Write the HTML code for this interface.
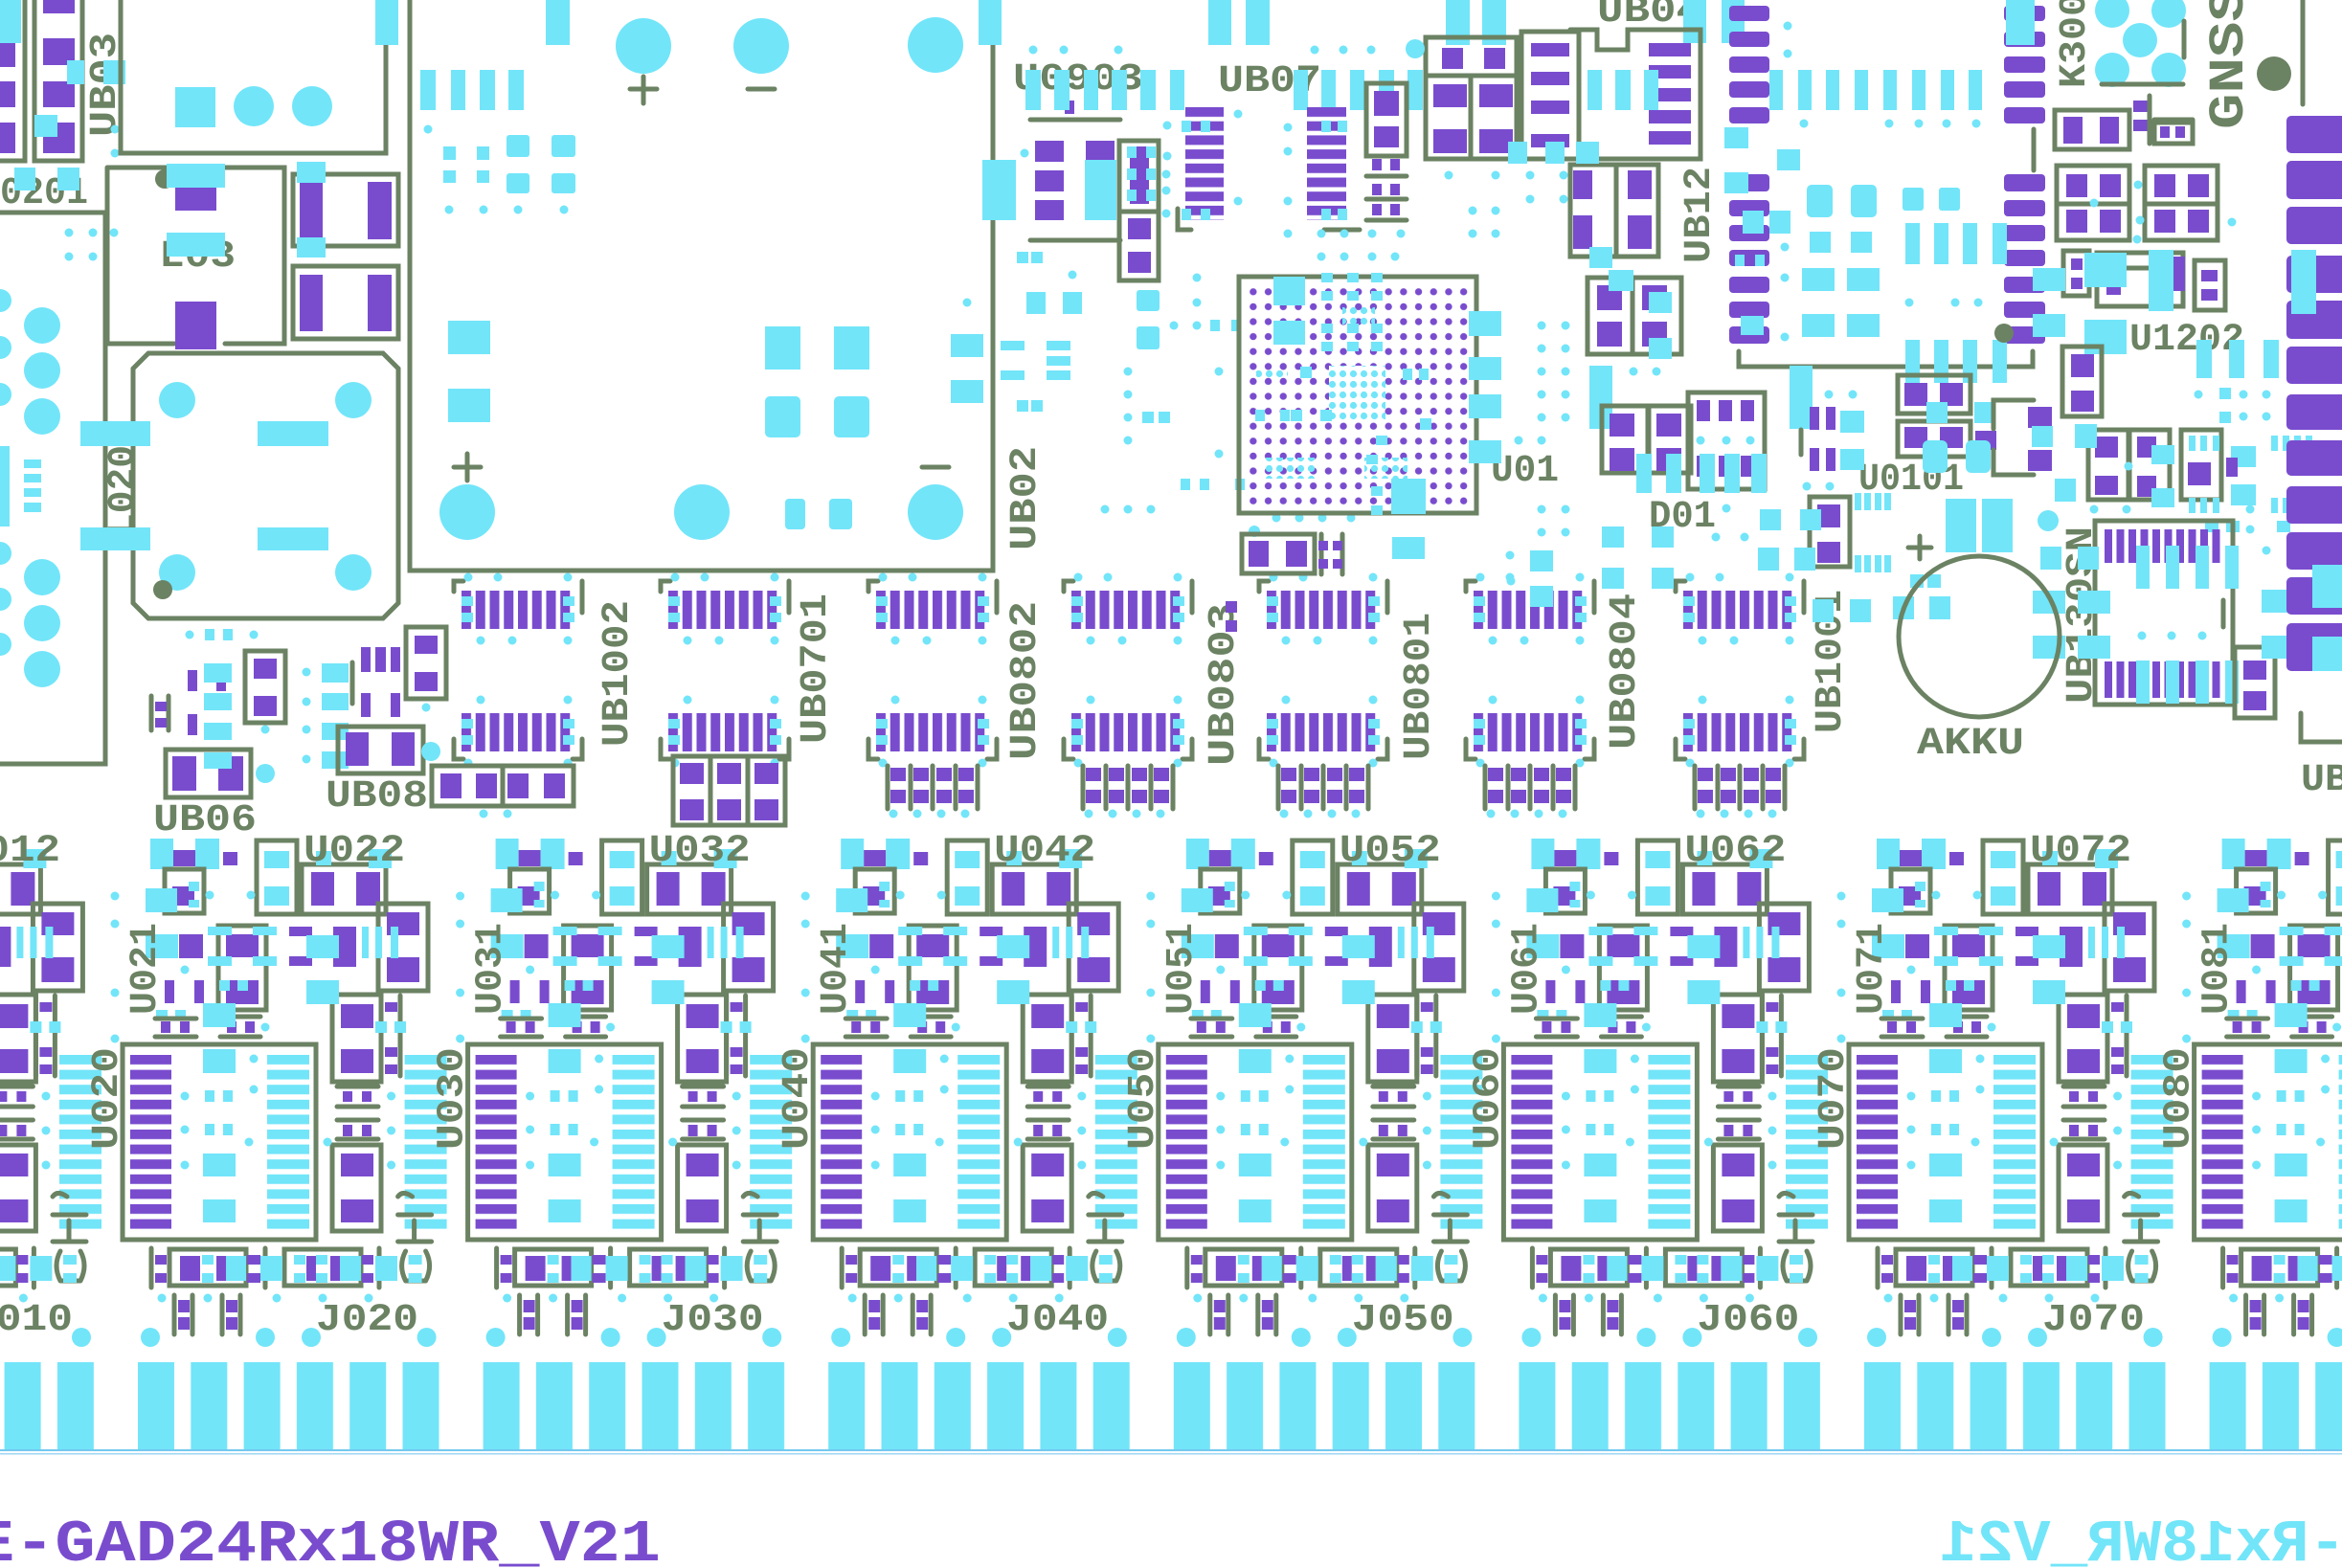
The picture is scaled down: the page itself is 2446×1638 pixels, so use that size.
<!DOCTYPE html>
<html><head><meta charset="utf-8"><style>
html,body{margin:0;padding:0;background:#fff;}
svg{display:block}
.c{fill:#72e5f9}.p{fill:#794cce}.o{fill:none;stroke:#6b8263;stroke-width:5;stroke-linecap:round}
.t{fill:#6b8263;font-family:"Liberation Mono",monospace;font-weight:bold;font-size:40px}
.d{fill:#72e5f9}
</style></head><body>
<svg width="2446" height="1638" viewBox="0 0 2446 1638" xmlns="http://www.w3.org/2000/svg" xmlns:xlink="http://www.w3.org/1999/xlink">
<defs>
<pattern id="stc" x="0" y="1102" width="1000" height="15.6" patternUnits="userSpaceOnUse"><rect width="1000" height="10" fill="#72e5f9"/></pattern>
<pattern id="stp" x="0" y="1102" width="1000" height="15.6" patternUnits="userSpaceOnUse"><rect width="1000" height="10" fill="#794cce"/></pattern>
<pattern id="vst" x="482" y="0" width="14.75" height="2000" patternUnits="userSpaceOnUse"><rect width="10" height="2000" fill="#794cce"/></pattern>
<pattern id="hst" x="0" y="112" width="2000" height="14.7" patternUnits="userSpaceOnUse"><rect width="2000" height="10" fill="#794cce"/></pattern>
<pattern id="vst2" x="2198" y="0" width="12.5" height="2000" patternUnits="userSpaceOnUse"><rect width="8" height="2000" fill="#794cce"/></pattern>
<pattern id="bga" x="1301" y="297" width="15.7" height="15.6" patternUnits="userSpaceOnUse"><circle cx="7.85" cy="7.8" r="3.7" fill="#794cce"/></pattern>
<pattern id="cd" x="0" y="0" width="11" height="11" patternUnits="userSpaceOnUse"><circle cx="5.5" cy="5.5" r="3.6" fill="#72e5f9"/></pattern>
<pattern id="fing" x="144" y="0" width="360.6" height="2000" patternUnits="userSpaceOnUse">
<rect x="0" width="38" height="2000" fill="#72e5f9"/><rect x="55.3" width="38" height="2000" fill="#72e5f9"/><rect x="110.6" width="38" height="2000" fill="#72e5f9"/><rect x="165.9" width="38" height="2000" fill="#72e5f9"/><rect x="221.2" width="38" height="2000" fill="#72e5f9"/><rect x="276.5" width="38" height="2000" fill="#72e5f9"/></pattern>

<g id="ch">
 <rect x="62" y="1102" width="44" height="182" fill="url(#stc)"/>
 <rect x="136" y="1102" width="43" height="182" fill="url(#stp)"/>
 <rect x="279" y="1102" width="44" height="182" fill="url(#stc)"/>
 <rect class="o" x="128" y="1091" width="202" height="204"/>
 <rect class="c" x="212" y="1096" width="34" height="25"/>
 <rect class="c" x="214" y="1139" width="10" height="12"/><rect class="c" x="233" y="1139" width="10" height="12"/>
 <rect class="c" x="214" y="1174" width="10" height="12"/><rect class="c" x="233" y="1174" width="10" height="12"/>
 <rect class="c" x="212" y="1205" width="34" height="24"/><rect class="c" x="212" y="1253" width="34" height="24"/>
 <circle class="d" cx="193" cy="1145" r="4.5"/><circle class="d" cx="193" cy="1180" r="4.5"/><circle class="d" cx="193" cy="1217" r="4.5"/>
 <circle class="d" cx="265" cy="1106" r="4.5"/><circle class="d" cx="265" cy="1138" r="4.5"/><circle class="d" cx="260" cy="1193" r="4.5"/>
 <circle class="d" cx="48" cy="1145" r="4.5"/><circle class="d" cx="48" cy="1181" r="4.5"/><circle class="d" cx="48" cy="1217" r="4.5"/>
 <rect class="o" x="347" y="1196" width="51" height="90"/><rect class="p" x="356" y="1205" width="34" height="24"/><rect class="p" x="356" y="1253" width="34" height="24"/>
 <rect class="o" x="347" y="1039" width="51" height="91"/><rect class="p" x="356" y="1049" width="34" height="25"/><rect class="p" x="356" y="1096" width="34" height="25"/>
 <path class="o" d="M352 1135H395M352 1156H395M352 1170H395M352 1190H395"/>
 <rect class="p" x="358" y="1140" width="10" height="11"/><rect class="p" x="378" y="1140" width="10" height="11"/>
 <rect class="p" x="358" y="1175" width="10" height="12"/><rect class="p" x="378" y="1175" width="10" height="12"/>
 <path class="o" d="M398 1040V1124M418 1040V1124"/>
 <rect class="p" x="402" y="1047" width="13" height="10"/><rect class="p" x="402" y="1094" width="13" height="10"/><rect class="p" x="402" y="1112" width="13" height="10"/>
 <rect class="c" x="392" y="1067" width="12" height="12"/><rect class="c" x="412" y="1067" width="12" height="12"/>
 <!-- label bits -->
 <path class="o" d="M55 1297H90M72 1297V1275M55 1269H90M55 1250Q60 1243 70 1250"/>
 <path class="o" d="M63 1307Q55 1322 63 1338M84 1307Q92 1322 84 1338M63 1338H84"/>
 <rect class="c" x="66" y="1311" width="14" height="10"/><rect class="c" x="66" y="1330" width="14" height="10"/>
 <!-- resistor row -->
 <path class="o" d="M158 1304V1345M277 1304V1345M396 1304V1345"/>
 <rect class="o" x="177" y="1305" width="80" height="38"/><rect class="o" x="297" y="1305" width="80" height="38"/>
 <rect class="p" x="162" y="1311" width="12" height="10"/><rect class="p" x="162" y="1330" width="12" height="10"/>
 <rect class="p" x="188" y="1312" width="21" height="26"/>
 <rect class="c" x="211" y="1311" width="12" height="10"/><rect class="c" x="211" y="1330" width="12" height="10"/>
 <rect class="p" x="226" y="1312" width="10" height="26"/><rect class="c" x="236" y="1312" width="21" height="26"/>
 <rect class="p" x="258" y="1311" width="14" height="10"/><rect class="p" x="258" y="1330" width="14" height="10"/>
 <rect class="c" x="272" y="1312" width="23" height="26"/>
 <rect class="c" x="307" y="1311" width="12" height="10"/><rect class="c" x="307" y="1330" width="12" height="10"/>
 <rect class="p" x="320" y="1312" width="10" height="26"/>
 <rect class="c" x="330" y="1311" width="12" height="10"/><rect class="c" x="330" y="1330" width="12" height="10"/>
 <rect class="p" x="345" y="1312" width="10" height="26"/><rect class="c" x="355" y="1312" width="22" height="26"/>
 <rect class="p" x="378" y="1311" width="12" height="10"/><rect class="p" x="378" y="1330" width="12" height="10"/>
 <rect class="c" x="392" y="1312" width="23" height="26"/>
 <!-- H shapes -->
 <path class="o" d="M182 1353V1394M201 1353V1394M232 1353V1394M251 1353V1394"/>
 <rect class="p" x="186" y="1358" width="12" height="13"/><rect class="p" x="186" y="1376" width="12" height="13"/>
 <rect class="p" x="236" y="1358" width="12" height="13"/><rect class="p" x="236" y="1376" width="12" height="13"/>
 <circle class="d" cx="85" cy="1397" r="10"/><circle class="d" cx="157" cy="1397" r="10"/><circle class="d" cx="277" cy="1397" r="10"/><circle class="d" cx="325" cy="1397" r="10"/>
 <circle class="d" cx="169" cy="1356" r="4.5"/><circle class="d" cx="217" cy="1356" r="4.5"/><circle class="d" cx="289" cy="1356" r="4.5"/><circle class="d" cx="337" cy="1356" r="4.5"/><circle class="d" cx="385" cy="1356" r="4.5"/>
 <!-- top part -->
 <rect class="c" x="157" y="876" width="24" height="32"/><rect class="p" x="181" y="888" width="23" height="17"/><rect class="c" x="204" y="876" width="25" height="32"/><rect class="p" x="233" y="890" width="15" height="14"/>
 <rect class="o" x="172" y="908" width="41" height="46"/><rect class="p" x="180" y="926" width="23" height="20"/>
 <rect class="c" x="152" y="928" width="33" height="25"/><rect class="c" x="197" y="921" width="11" height="10"/><rect class="c" x="197" y="940" width="11" height="8"/>
 <rect class="o" x="268" y="878" width="42" height="77"/><rect class="c" x="276" y="889" width="26" height="18"/><rect class="c" x="276" y="926" width="26" height="20"/>
 <rect class="o" x="315" y="903" width="88" height="52"/><rect class="p" x="325" y="911" width="24" height="35"/><rect class="p" x="372" y="911" width="25" height="35"/>
 <rect class="c" x="330" y="889" width="16" height="15"/><rect class="c" x="385" y="887" width="24" height="20"/>
 <rect class="o" x="395" y="944" width="52" height="91"/><rect class="p" x="404" y="953" width="34" height="24"/><rect class="p" x="404" y="1000" width="34" height="26"/>
 <rect class="c" x="152" y="976" width="34" height="25"/><rect class="p" x="187" y="976" width="25" height="25"/>
 <rect class="o" x="228" y="967" width="50" height="88"/><rect class="p" x="236" y="976" width="34" height="24"/><rect class="p" x="236" y="1024" width="34" height="25"/>
 <rect class="c" x="217" y="968" width="25" height="9"/><rect class="c" x="264" y="968" width="25" height="9"/><rect class="c" x="217" y="999" width="25" height="10"/><rect class="c" x="264" y="999" width="25" height="10"/>
 <rect class="p" x="302" y="968" width="24" height="10"/><rect class="p" x="302" y="999" width="24" height="10"/>
 <rect class="p" x="348" y="968" width="24" height="42"/><rect class="c" x="320" y="977" width="34" height="24"/>
 <rect class="c" x="378" y="968" width="7" height="33"/><rect class="c" x="392" y="968" width="7" height="33"/><rect class="c" x="408" y="968" width="8" height="33"/>
 <rect class="c" x="320" y="1024" width="34" height="25"/>
 <rect class="p" x="172" y="1024" width="10" height="24"/><rect class="p" x="203" y="1024" width="10" height="24"/>
 <rect class="c" x="163" y="1055" width="12" height="11"/><rect class="c" x="183" y="1055" width="11" height="11"/>
 <path class="o" d="M162 1064H205M162 1083H205M230 1062H272M230 1083H272"/>
 <rect class="p" x="168" y="1067" width="10" height="12"/><rect class="p" x="188" y="1067" width="10" height="12"/>
 <rect class="p" x="237" y="1067" width="10" height="12"/><rect class="p" x="256" y="1067" width="10" height="12"/>
 <rect class="c" x="212" y="1048" width="34" height="25"/>
 <rect class="c" x="229" y="1024" width="11" height="11"/><rect class="c" x="248" y="1024" width="11" height="11"/>
 <circle class="d" cx="120" cy="936" r="4.5"/><circle class="d" cx="120" cy="965" r="4.5"/><circle class="d" cx="120" cy="1037" r="4.5"/><circle class="d" cx="120" cy="1085" r="4.5"/>
 <circle class="d" cx="193" cy="1013" r="4.5"/><circle class="d" cx="219" cy="935" r="4.5"/><circle class="d" cx="262" cy="935" r="4.5"/>
 <circle class="d" cx="277" cy="1073" r="4.5"/><circle class="d" cx="342" cy="1193" r="4.5"/>
</g>

<g id="ub">
 <rect x="482" y="617" width="118" height="40" fill="url(#vst)"/>
 <rect x="482" y="745" width="118" height="40" fill="url(#vst)"/>
 <rect class="c" x="482" y="623" width="12" height="10"/><rect class="c" x="482" y="640" width="12" height="10"/>
 <rect class="c" x="588" y="623" width="12" height="10"/><rect class="c" x="588" y="640" width="12" height="10"/>
 <rect class="c" x="482" y="751" width="12" height="10"/><rect class="c" x="482" y="768" width="12" height="10"/>
 <rect class="c" x="588" y="751" width="12" height="10"/><rect class="c" x="588" y="768" width="12" height="10"/>
 <path class="o" d="M474 618V607H484M608 607V640M474 772V793H484M608 772V793H598"/>
 <circle class="d" cx="489" cy="603" r="4.5"/><circle class="d" cx="520" cy="603" r="4.5"/><circle class="d" cx="593" cy="603" r="4.5"/>
 <circle class="d" cx="502" cy="669" r="4.5"/><circle class="d" cx="535" cy="669" r="4.5"/><circle class="d" cx="593" cy="669" r="4.5"/>
 <circle class="d" cx="502" cy="731" r="4.5"/><circle class="d" cx="593" cy="731" r="4.5"/>
 <circle class="d" cx="489" cy="797" r="4.5"/><circle class="d" cx="593" cy="797" r="4.5"/>
</g>
<g id="grid">
 <path class="o" d="M494 800V845M518 800V845M541 800V845M565 800V845M588 800V845"/>
 <rect class="p" x="497" y="802" width="16" height="14"/><rect class="p" x="521" y="802" width="16" height="14"/><rect class="p" x="545" y="802" width="16" height="14"/><rect class="p" x="568" y="802" width="16" height="14"/>
 <rect class="p" x="497" y="825" width="16" height="14"/><rect class="p" x="521" y="825" width="16" height="14"/><rect class="p" x="545" y="825" width="16" height="14"/><rect class="p" x="568" y="825" width="16" height="14"/>
 <circle class="d" cx="500" cy="850" r="4.5"/><circle class="d" cx="525" cy="850" r="4.5"/><circle class="d" cx="550" cy="850" r="4.5"/><circle class="d" cx="575" cy="850" r="4.5"/>
</g>
</defs>

<!-- fingers -->
<rect x="0" y="1423" width="2446" height="93" fill="url(#fing)"/>
<rect x="0" y="1514" width="2446" height="2" fill="#74c9f0"/><rect x="0" y="1518" width="2446" height="1.5" fill="#9fd8f4"/>

<!-- channel blocks -->
<use xlink:href="#ch" x="-360.6"/><use xlink:href="#ch" x="0"/><use xlink:href="#ch" x="360.6"/><use xlink:href="#ch" x="721.2"/>
<use xlink:href="#ch" x="1081.8"/><use xlink:href="#ch" x="1442.4"/><use xlink:href="#ch" x="1803"/><use xlink:href="#ch" x="2163.6"/>

<g class="t">
<text x="-43" y="899" textLength="106" lengthAdjust="spacingAndGlyphs">U012</text>
<text x="-31" y="1389" textLength="107" lengthAdjust="spacingAndGlyphs">J010</text>
<text x="317" y="899" textLength="106" lengthAdjust="spacingAndGlyphs">U022</text>
<text x="677.6" y="899" textLength="106" lengthAdjust="spacingAndGlyphs">U032</text>
<text x="1038.2" y="899" textLength="106" lengthAdjust="spacingAndGlyphs">U042</text>
<text x="1398.8" y="899" textLength="106" lengthAdjust="spacingAndGlyphs">U052</text>
<text x="1759.4" y="899" textLength="106" lengthAdjust="spacingAndGlyphs">U062</text>
<text x="2120" y="899" textLength="106" lengthAdjust="spacingAndGlyphs">U072</text>
<text x="330" y="1389" textLength="107" lengthAdjust="spacingAndGlyphs">J020</text>
<text x="690.6" y="1389" textLength="107" lengthAdjust="spacingAndGlyphs">J030</text>
<text x="1051.2" y="1389" textLength="107" lengthAdjust="spacingAndGlyphs">J040</text>
<text x="1411.8" y="1389" textLength="107" lengthAdjust="spacingAndGlyphs">J050</text>
<text x="1772.4" y="1389" textLength="107" lengthAdjust="spacingAndGlyphs">J060</text>
<text x="2133" y="1389" textLength="107" lengthAdjust="spacingAndGlyphs">J070</text>
<text transform="translate(162,1060) rotate(-90)" textLength="96" lengthAdjust="spacingAndGlyphs">U021</text>
<text transform="translate(522.6,1060) rotate(-90)" textLength="96" lengthAdjust="spacingAndGlyphs">U031</text>
<text transform="translate(883.2,1060) rotate(-90)" textLength="96" lengthAdjust="spacingAndGlyphs">U041</text>
<text transform="translate(1243.8,1060) rotate(-90)" textLength="96" lengthAdjust="spacingAndGlyphs">U051</text>
<text transform="translate(1604.4,1060) rotate(-90)" textLength="96" lengthAdjust="spacingAndGlyphs">U061</text>
<text transform="translate(1965,1060) rotate(-90)" textLength="96" lengthAdjust="spacingAndGlyphs">U071</text>
<text transform="translate(2325.6,1060) rotate(-90)" textLength="96" lengthAdjust="spacingAndGlyphs">U081</text>
<text transform="translate(122,1201) rotate(-90)" textLength="107" lengthAdjust="spacingAndGlyphs">U020</text>
<text transform="translate(482.6,1201) rotate(-90)" textLength="107" lengthAdjust="spacingAndGlyphs">U030</text>
<text transform="translate(843.2,1201) rotate(-90)" textLength="107" lengthAdjust="spacingAndGlyphs">U040</text>
<text transform="translate(1203.8,1201) rotate(-90)" textLength="107" lengthAdjust="spacingAndGlyphs">U050</text>
<text transform="translate(1564.4,1201) rotate(-90)" textLength="107" lengthAdjust="spacingAndGlyphs">U060</text>
<text transform="translate(1925,1201) rotate(-90)" textLength="107" lengthAdjust="spacingAndGlyphs">U070</text>
<text transform="translate(2285.6,1201) rotate(-90)" textLength="107" lengthAdjust="spacingAndGlyphs">U080</text>
</g>
<!-- re-draw comb stripes over labels (labels hidden partly) -->

<!-- bottom text -->
<text x="-27" y="1630" textLength="717" lengthAdjust="spacingAndGlyphs" style="fill:#794cce;font-family:'Liberation Mono',monospace;font-weight:bold;font-size:62px">E-GAD24Rx18WR_V21</text>
<text transform="matrix(-1 0 0 1 4472 0)" x="2022" y="1630" textLength="424" lengthAdjust="spacingAndGlyphs" style="fill:#72e5f9;font-family:'Liberation Mono',monospace;font-weight:bold;font-size:62px">-Rx18WR_V21</text>

<!-- UB blocks -->
<use xlink:href="#ub" x="0"/><use xlink:href="#ub" x="216"/><use xlink:href="#ub" x="433"/><use xlink:href="#ub" x="637"/>
<use xlink:href="#ub" x="841"/><use xlink:href="#ub" x="1057"/><use xlink:href="#ub" x="1276"/>
<use xlink:href="#grid" x="433"/><use xlink:href="#grid" x="637"/><use xlink:href="#grid" x="841"/><use xlink:href="#grid" x="1057"/><use xlink:href="#grid" x="1276"/>
<rect class="o" x="703" y="790" width="39" height="72"/><rect class="o" x="742" y="790" width="39" height="72"/><rect class="o" x="781" y="790" width="39" height="72"/>
<rect class="p" x="710" y="797" width="25" height="22"/><rect class="p" x="710" y="835" width="25" height="22"/>
<rect class="p" x="749" y="797" width="25" height="22"/><rect class="p" x="749" y="835" width="25" height="22"/>
<rect class="p" x="788" y="797" width="25" height="22"/><rect class="p" x="788" y="835" width="25" height="22"/>
<g class="t">
<text transform="translate(655,780) rotate(-90)" textLength="153" lengthAdjust="spacingAndGlyphs">UB1002</text>
<text transform="translate(862,777) rotate(-90)" textLength="157" lengthAdjust="spacingAndGlyphs">UB0701</text>
<text transform="translate(1081,794) rotate(-90)" textLength="166" lengthAdjust="spacingAndGlyphs">UB0802</text>
<text transform="translate(1288,800) rotate(-90)" textLength="170" lengthAdjust="spacingAndGlyphs">UB0803</text>
<text transform="translate(1492,794) rotate(-90)" textLength="154" lengthAdjust="spacingAndGlyphs">UB0801</text>
<text transform="translate(1707,783) rotate(-90)" textLength="163" lengthAdjust="spacingAndGlyphs">UB0804</text>
<text transform="translate(1922,766) rotate(-90)" textLength="150" lengthAdjust="spacingAndGlyphs">UB1001</text>
<text transform="translate(1081,575) rotate(-90)" textLength="109" lengthAdjust="spacingAndGlyphs">UB02</text>
<text transform="translate(120,143) rotate(-90)" textLength="109" lengthAdjust="spacingAndGlyphs">UB03</text>
<text transform="translate(1785,275) rotate(-90)" textLength="101" lengthAdjust="spacingAndGlyphs">UB12</text>
<text transform="translate(139,560) rotate(-90)" textLength="95" lengthAdjust="spacingAndGlyphs">L020</text>
<text transform="translate(2184,735) rotate(-90)" textLength="185" lengthAdjust="spacingAndGlyphs">UB130SN</text>
<text transform="translate(2177,92) rotate(-90)" textLength="100" lengthAdjust="spacingAndGlyphs">K300</text>
<text transform="translate(2342,135) rotate(-90)" textLength="150" lengthAdjust="spacingAndGlyphs" style="font-size:52px">GNSS</text>
<text x="-23" y="212" textLength="115" lengthAdjust="spacingAndGlyphs">L0201</text>
<text x="166" y="278" textLength="80" lengthAdjust="spacingAndGlyphs">L03</text>
<text x="160" y="867" textLength="108" lengthAdjust="spacingAndGlyphs">UB06</text>
<text x="340" y="842" textLength="107" lengthAdjust="spacingAndGlyphs">UB08</text>
<text x="1058" y="93" textLength="136" lengthAdjust="spacingAndGlyphs">U0903</text>
<text x="1272" y="95" textLength="108" lengthAdjust="spacingAndGlyphs">UB07</text>
<text x="1557" y="502" textLength="71" lengthAdjust="spacingAndGlyphs">U01</text>
<text x="1668" y="22" textLength="110" lengthAdjust="spacingAndGlyphs">UB04</text>
<text x="1722" y="550" textLength="70" lengthAdjust="spacingAndGlyphs">D01</text>
<text x="1941" y="511" textLength="110" lengthAdjust="spacingAndGlyphs">U0101</text>
<text x="2224" y="365" textLength="120" lengthAdjust="spacingAndGlyphs">U1202</text>
<text x="2002" y="787" textLength="112" lengthAdjust="spacingAndGlyphs">AKKU</text>
<text x="2403" y="825" textLength="50" lengthAdjust="spacingAndGlyphs">UB</text>
</g>

<!-- ===== TOP LEFT ===== -->
<rect class="o" x="-5" y="-5" width="31" height="173"/><rect class="o" x="36" y="-5" width="50" height="173"/>
<rect class="p" x="45" y="0" width="33" height="14"/><rect class="p" x="45" y="40" width="33" height="28"/><rect class="p" x="45" y="85" width="33" height="27"/><rect class="p" x="45" y="128" width="33" height="32"/>
<rect class="p" x="0" y="45" width="16" height="25"/><rect class="p" x="0" y="85" width="16" height="27"/><rect class="p" x="0" y="128" width="16" height="32"/>
<rect class="c" x="0" y="0" width="22" height="45"/><rect class="c" x="70" y="63" width="18" height="25"/><rect class="c" x="108" y="63" width="23" height="25"/><rect class="c" x="36" y="120" width="24" height="23"/>
<rect class="c" x="15" y="175" width="22" height="24"/><rect class="c" x="60" y="175" width="23" height="24"/>
<circle class="d" cx="120" cy="135" r="4.5"/><circle class="d" cx="120" cy="160" r="4.5"/>
<path class="o" d="M126 0V160H403V47"/>
<rect class="c" x="392" y="0" width="24" height="47"/><rect class="c" x="570" y="0" width="25" height="47"/>
<rect class="c" x="183" y="91" width="42" height="42"/><circle class="d" cx="265" cy="111" r="21"/><circle class="d" cx="326" cy="111" r="21"/>
<path class="o" d="M0 222H110V798H0"/>
<circle class="d" cx="44" cy="340" r="19"/><circle class="d" cx="44" cy="387" r="19"/><circle class="d" cx="44" cy="435" r="19"/>
<circle class="d" cx="44" cy="603" r="19"/><circle class="d" cx="44" cy="651" r="19"/><circle class="d" cx="44" cy="699" r="19"/>
<circle class="d" cx="0" cy="314" r="12"/><circle class="d" cx="0" cy="363" r="12"/><circle class="d" cx="0" cy="412" r="12"/>
<circle class="d" cx="0" cy="578" r="12"/><circle class="d" cx="0" cy="626" r="12"/><circle class="d" cx="0" cy="673" r="12"/>
<rect class="c" x="0" y="466" width="10" height="84"/>
<rect class="c" x="25" y="480" width="18" height="9"/><rect class="c" x="25" y="495" width="18" height="9"/><rect class="c" x="25" y="510" width="18" height="9"/><rect class="c" x="25" y="525" width="18" height="10"/>
<circle class="d" cx="72" cy="243" r="4.5"/><circle class="d" cx="97" cy="243" r="4.5"/><circle class="d" cx="119" cy="243" r="4.5"/><circle class="d" cx="72" cy="268" r="4.5"/><circle class="d" cx="97" cy="268" r="4.5"/>
<!-- L03 -->
<path class="o" d="M112 175H297V359H235M182 359H112V175"/>
<circle cx="172" cy="187" r="10" fill="#6b8263"/>
<rect class="p" x="183" y="196" width="43" height="24"/><rect class="c" x="174" y="171" width="61" height="25"/><rect class="c" x="174" y="243" width="61" height="25"/>
<rect class="p" x="183" y="315" width="43" height="50"/>
<rect class="o" x="306" y="182" width="110" height="75"/><rect class="p" x="313" y="190" width="24" height="60"/><rect class="p" x="384" y="190" width="25" height="60"/>
<rect class="c" x="310" y="169" width="30" height="22"/><rect class="c" x="310" y="248" width="30" height="21"/>
<rect class="o" x="306" y="278" width="110" height="76"/><rect class="p" x="313" y="287" width="24" height="59"/><rect class="p" x="384" y="287" width="25" height="59"/>
<!-- octagon -->
<polygon class="o" points="155,369 400,369 416,385 416,630 400,646 155,646 139,630 139,385"/>
<circle class="d" cx="185" cy="418" r="19"/><circle class="d" cx="369" cy="418" r="19"/><circle class="d" cx="185" cy="598" r="19"/><circle class="d" cx="369" cy="598" r="19"/>
<circle cx="170" cy="616" r="10" fill="#6b8263"/>
<rect class="c" x="269" y="440" width="74" height="26"/><rect class="c" x="269" y="551" width="74" height="24"/>
<rect class="c" x="84" y="440" width="73" height="26"/><rect class="c" x="84" y="551" width="73" height="24"/>
<!-- small parts below octagon -->
<circle class="d" cx="198" cy="663" r="4.5"/><rect class="c" x="214" y="657" width="10" height="12"/><rect class="c" x="233" y="657" width="10" height="12"/><circle class="d" cx="265" cy="663" r="4.5"/>
<rect class="p" x="196" y="700" width="10" height="22"/><rect class="p" x="196" y="746" width="10" height="22"/>
<path class="o" d="M158 727V763M176 727V763"/><rect class="p" x="162" y="733" width="12" height="10"/><rect class="p" x="162" y="750" width="12" height="10"/>
<rect class="p" x="226" y="700" width="10" height="22"/>
<rect class="c" x="213" y="693" width="29" height="20"/><rect class="c" x="213" y="724" width="29" height="18"/><rect class="c" x="213" y="755" width="29" height="18"/>
<rect class="o" x="256" y="680" width="42" height="75"/><rect class="p" x="265" y="688" width="24" height="21"/><rect class="p" x="265" y="727" width="24" height="21"/>
<rect class="o" x="173" y="783" width="89" height="50"/><rect class="p" x="180" y="790" width="25" height="36"/><rect class="p" x="228" y="790" width="26" height="36"/><rect class="c" x="213" y="786" width="29" height="17"/>
<circle class="d" cx="277" cy="808" r="10"/><circle class="d" cx="277" cy="762" r="4.5"/>
<circle class="d" cx="320" cy="702" r="4.5"/><circle class="d" cx="320" cy="733" r="4.5"/><circle class="d" cx="320" cy="762" r="4.5"/><circle class="d" cx="320" cy="793" r="4.5"/>
<rect class="c" x="336" y="693" width="28" height="20"/><rect class="c" x="336" y="724" width="28" height="18"/><rect class="c" x="336" y="755" width="28" height="18"/><rect class="c" x="336" y="785" width="28" height="18"/>
<rect class="o" x="353" y="759" width="89" height="49"/><rect class="p" x="361" y="765" width="24" height="35"/><rect class="p" x="409" y="765" width="24" height="35"/>
<rect class="o" x="424" y="655" width="42" height="75"/><rect class="p" x="433" y="664" width="24" height="19"/><rect class="p" x="433" y="702" width="24" height="20"/>
<rect class="p" x="377" y="676" width="10" height="26"/><rect class="p" x="392" y="676" width="11" height="26"/><rect class="p" x="408" y="676" width="10" height="26"/>
<rect class="p" x="377" y="724" width="10" height="25"/><rect class="p" x="408" y="724" width="10" height="25"/>
<path class="o" d="M368 692V735"/>
<circle class="d" cx="450" cy="785" r="10"/><circle class="d" cx="445" cy="739" r="4.5"/>
<rect class="o" x="451" y="800" width="148" height="42"/><path class="o" d="M525 800V842"/>
<rect class="p" x="460" y="808" width="22" height="26"/><rect class="p" x="497" y="808" width="22" height="26"/><rect class="p" x="530" y="808" width="22" height="26"/><rect class="p" x="568" y="808" width="22" height="26"/>
<circle class="d" cx="505" cy="850" r="4.5"/><circle class="d" cx="530" cy="850" r="4.5"/>

<!-- module -->
<path class="o" d="M428 0V596H1037V0"/>
<rect class="c" x="439" y="73" width="16" height="42"/><rect class="c" x="471" y="73" width="15" height="42"/><rect class="c" x="501" y="73" width="16" height="42"/><rect class="c" x="531" y="73" width="16" height="42"/>
<circle class="d" cx="672" cy="48" r="29"/><circle class="d" cx="795" cy="48" r="29"/><circle class="d" cx="977" cy="47" r="29"/>
<path class="o" d="M658 93H686M672 80V108M781 93H809"/>
<circle class="d" cx="488" cy="535" r="29"/><circle class="d" cx="733" cy="535" r="29"/><circle class="d" cx="977" cy="535" r="29"/>
<path class="o" d="M474 488H502M488 474V502M963 488H991"/>
<rect class="c" x="468" y="335" width="44" height="35"/><rect class="c" x="468" y="406" width="44" height="35"/>
<rect class="c" x="799" y="341" width="37" height="45"/><rect class="c" x="871" y="341" width="37" height="45"/>
<rect class="c" x="799" y="414" width="37" height="43" rx="5"/><rect class="c" x="871" y="414" width="37" height="43" rx="5"/>
<rect class="c" x="820" y="521" width="21" height="32" rx="4"/><rect class="c" x="866" y="521" width="24" height="32" rx="4"/>
<rect class="c" x="993" y="349" width="34" height="24"/><rect class="c" x="993" y="397" width="34" height="24"/>
<rect class="c" x="463" y="153" width="13" height="14"/><rect class="c" x="498" y="153" width="13" height="14"/><rect class="c" x="463" y="178" width="13" height="13"/><rect class="c" x="498" y="178" width="13" height="13"/>
<rect class="c" x="529" y="141" width="24" height="23" rx="3"/><rect class="c" x="576" y="141" width="25" height="23" rx="3"/><rect class="c" x="529" y="181" width="24" height="21" rx="3"/><rect class="c" x="576" y="181" width="25" height="21" rx="3"/>
<circle class="d" cx="469" cy="219" r="4.5"/><circle class="d" cx="505" cy="219" r="4.5"/><circle class="d" cx="541" cy="219" r="4.5"/><circle class="d" cx="589" cy="219" r="4.5"/><circle class="d" cx="447" cy="135" r="4.5"/>

<!-- ===== TOP MIDDLE ===== -->
<rect class="c" x="1022" y="0" width="24" height="47"/><rect class="c" x="1262" y="0" width="24" height="47"/><rect class="c" x="1301" y="0" width="25" height="47"/><rect class="c" x="1510" y="0" width="25" height="47"/><rect class="c" x="1548" y="0" width="25" height="47"/>
<path class="o" d="M1076 125H1170M1076 251H1170"/>
<rect class="p" x="1112" y="105" width="10" height="14"/>
<rect class="c" x="1071" y="73" width="16" height="42"/><rect class="c" x="1101" y="73" width="16" height="42"/><rect class="c" x="1132" y="73" width="15" height="42"/><rect class="c" x="1161" y="73" width="16" height="42"/><rect class="c" x="1191" y="73" width="16" height="42"/><rect class="c" x="1222" y="73" width="15" height="42"/>
<rect class="c" x="1351" y="73" width="15" height="42"/><rect class="c" x="1380" y="73" width="15" height="42"/><rect class="c" x="1410" y="73" width="15" height="42"/><rect class="c" x="1440" y="73" width="16" height="42"/><rect class="c" x="1470" y="73" width="16" height="42"/>
<rect class="p" x="1081" y="147" width="30" height="22"/><rect class="p" x="1081" y="178" width="30" height="22"/><rect class="p" x="1081" y="209" width="30" height="21"/><rect class="p" x="1134" y="147" width="30" height="22"/>
<rect class="c" x="1026" y="167" width="35" height="63"/><rect class="c" x="1133" y="167" width="33" height="63"/>
<rect class="o" x="1169" y="147" width="41" height="146"/><path class="o" d="M1169 221H1210"/>
<rect class="p" x="1180" y="153" width="20" height="60"/>
<rect class="c" x="1177" y="153" width="10" height="12"/><rect class="c" x="1197" y="153" width="10" height="12"/><rect class="c" x="1177" y="176" width="10" height="12"/><rect class="c" x="1197" y="176" width="10" height="12"/><rect class="c" x="1177" y="198" width="10" height="12"/><rect class="c" x="1197" y="198" width="10" height="12"/>
<rect class="p" x="1178" y="228" width="24" height="22"/><rect class="p" x="1178" y="263" width="24" height="22"/>
<rect x="1238" y="112" width="40" height="118" fill="url(#hst)"/>
<rect class="c" x="1234" y="126" width="10" height="12"/><rect class="c" x="1254" y="126" width="10" height="12"/><rect class="c" x="1234" y="218" width="10" height="12"/><rect class="c" x="1254" y="218" width="10" height="12"/>
<path class="o" d="M1230 218V240H1244"/>
<rect x="1365" y="112" width="41" height="118" fill="url(#hst)"/>
<rect class="c" x="1380" y="126" width="10" height="12"/><rect class="c" x="1397" y="126" width="10" height="12"/><rect class="c" x="1380" y="218" width="10" height="12"/><rect class="c" x="1397" y="218" width="10" height="12"/>
<path class="o" d="M1383 240H1420"/>
<rect class="o" x="1427" y="87" width="42" height="76"/><rect class="p" x="1435" y="95" width="26" height="26"/><rect class="p" x="1435" y="132" width="26" height="22"/>
<path class="o" d="M1427 184H1469M1427 208H1469M1427 230H1469"/>
<rect class="p" x="1433" y="166" width="10" height="12"/><rect class="p" x="1452" y="166" width="10" height="12"/><rect class="p" x="1433" y="192" width="10" height="12"/><rect class="p" x="1452" y="192" width="10" height="12"/><rect class="p" x="1433" y="213" width="10" height="12"/><rect class="p" x="1452" y="213" width="10" height="12"/>
<rect class="o" x="1489" y="39" width="95" height="40"/><rect class="o" x="1489" y="79" width="95" height="87"/><path class="o" d="M1536 79V166"/>
<rect class="p" x="1506" y="50" width="22" height="22"/><rect class="p" x="1550" y="50" width="22" height="22"/>
<rect class="p" x="1497" y="88" width="35" height="24"/><rect class="p" x="1497" y="135" width="35" height="25"/><rect class="p" x="1545" y="88" width="35" height="24"/><rect class="p" x="1545" y="135" width="35" height="25"/>
<rect class="o" x="1589" y="33" width="60" height="133"/>
<rect class="p" x="1599" y="45" width="40" height="14"/><rect class="p" x="1599" y="75" width="40" height="14"/><rect class="p" x="1599" y="105" width="40" height="14"/><rect class="p" x="1599" y="140" width="40" height="14"/>
<rect class="c" x="1575" y="148" width="20" height="23"/><rect class="c" x="1614" y="148" width="20" height="23"/>
<g class="d">
<circle cx="1079" cy="52" r="4.5"/><circle cx="1111" cy="52" r="4.5"/><circle cx="1168" cy="52" r="4.5"/><circle cx="1373" cy="52" r="4.5"/><circle cx="1403" cy="52" r="4.5"/><circle cx="1432" cy="52" r="4.5"/><circle cx="1478" cy="51" r="10"/>
<circle cx="1070" cy="160" r="4.5"/><circle cx="1219" cy="131" r="4.5"/><circle cx="1219" cy="163" r="4.5"/><circle cx="1218" cy="182" r="4.5"/><circle cx="1218" cy="199" r="4.5"/><circle cx="1218" cy="223" r="4.5"/>
<circle cx="1293" cy="119" r="4.5"/><circle cx="1293" cy="210" r="4.5"/><circle cx="1345" cy="133" r="4.5"/><circle cx="1345" cy="158" r="4.5"/><circle cx="1345" cy="210" r="4.5"/><circle cx="1345" cy="244" r="4.5"/>
<circle cx="1380" cy="244" r="4.5"/><circle cx="1404" cy="244" r="4.5"/><circle cx="1433" cy="244" r="4.5"/><circle cx="1463" cy="244" r="4.5"/><circle cx="1380" cy="268" r="4.5"/><circle cx="1404" cy="268" r="4.5"/><circle cx="1433" cy="268" r="4.5"/><circle cx="1457" cy="268" r="4.5"/>
<circle cx="1513" cy="183" r="4.5"/><circle cx="1562" cy="183" r="4.5"/><circle cx="1598" cy="183" r="4.5"/><circle cx="1633" cy="183" r="4.5"/><circle cx="1598" cy="208" r="4.5"/><circle cx="1633" cy="208" r="4.5"/>
<circle cx="1538" cy="220" r="4.5"/><circle cx="1562" cy="220" r="4.5"/><circle cx="1538" cy="244" r="4.5"/><circle cx="1562" cy="244" r="4.5"/>
<circle cx="1120" cy="287" r="4.5"/><circle cx="1010" cy="316" r="4.5"/><circle cx="1250" cy="290" r="4.5"/><circle cx="1250" cy="316" r="4.5"/><circle cx="1226" cy="340" r="4.5"/><circle cx="1250" cy="340" r="4.5"/>
<circle cx="1178" cy="388" r="4.5"/><circle cx="1178" cy="412" r="4.5"/><circle cx="1178" cy="436" r="4.5"/><circle cx="1178" cy="460" r="4.5"/><circle cx="1273" cy="388" r="4.5"/><circle cx="1273" cy="474" r="4.5"/>
<circle cx="1154" cy="532" r="4.5"/><circle cx="1178" cy="532" r="4.5"/><circle cx="1202" cy="532" r="4.5"/>
<circle cx="1333" cy="541" r="4.5"/><circle cx="1357" cy="541" r="4.5"/><circle cx="1381" cy="541" r="4.5"/><circle cx="1411" cy="541" r="4.5"/>
<circle cx="1610" cy="340" r="4.5"/><circle cx="1635" cy="340" r="4.5"/><circle cx="1610" cy="364" r="4.5"/><circle cx="1635" cy="364" r="4.5"/><circle cx="1610" cy="388" r="4.5"/><circle cx="1635" cy="388" r="4.5"/><circle cx="1610" cy="412" r="4.5"/><circle cx="1635" cy="412" r="4.5"/><circle cx="1610" cy="436" r="4.5"/><circle cx="1635" cy="436" r="4.5"/>
<circle cx="1586" cy="460" r="4.5"/><circle cx="1610" cy="460" r="4.5"/><circle cx="1610" cy="532" r="4.5"/><circle cx="1635" cy="532" r="4.5"/><circle cx="1610" cy="556" r="4.5"/><circle cx="1635" cy="556" r="4.5"/>
<circle cx="1310" cy="555" r="6"/><circle cx="1577" cy="580" r="4.5"/><circle cx="1578" cy="607" r="4.5"/>
</g>
<rect class="c" x="1062" y="263" width="12" height="12"/><rect class="c" x="1077" y="263" width="12" height="12"/>
<rect class="c" x="1072" y="305" width="20" height="23"/><rect class="c" x="1110" y="305" width="20" height="23"/>
<rect class="c" x="1187" y="303" width="24" height="22" rx="3"/><rect class="c" x="1187" y="341" width="24" height="24" rx="3"/>
<rect class="c" x="1045" y="356" width="25" height="10"/><rect class="c" x="1093" y="356" width="25" height="10"/><rect class="c" x="1093" y="372" width="25" height="10"/><rect class="c" x="1045" y="387" width="25" height="10"/><rect class="c" x="1093" y="387" width="25" height="10"/>
<rect class="c" x="1062" y="418" width="12" height="12"/><rect class="c" x="1077" y="418" width="12" height="12"/>
<rect class="c" x="1193" y="430" width="12" height="12"/><rect class="c" x="1210" y="430" width="12" height="12"/>
<rect class="c" x="1264" y="334" width="10" height="12"/><rect class="c" x="1286" y="334" width="10" height="12"/>
<rect class="c" x="1233" y="500" width="10" height="12"/><rect class="c" x="1253" y="500" width="10" height="12"/><rect class="c" x="1290" y="500" width="10" height="12"/>
<!-- BGA -->
<rect class="o" x="1294" y="289" width="248" height="247"/>
<rect x="1301" y="297" width="236" height="234" fill="url(#bga)"/>
<rect x="1388" y="382" width="58" height="56" fill="#fff"/>
<rect x="1387" y="382" width="60" height="58" fill="url(#cd)"/>
<rect x="1312" y="383" width="33" height="13" fill="url(#cd)"/>
<rect x="1320" y="478" width="55" height="22" fill="url(#cd)"/>
<rect x="1425" y="478" width="45" height="22" fill="url(#cd)"/>
<rect x="1402" y="318" width="34" height="22" fill="url(#cd)"/>
<rect class="c" x="1330" y="289" width="33" height="30"/><rect class="c" x="1330" y="335" width="33" height="25"/>
<rect class="c" x="1380" y="285" width="12" height="10"/><rect class="c" x="1407" y="285" width="12" height="10"/><rect class="c" x="1432" y="285" width="12" height="10"/>
<rect class="c" x="1380" y="304" width="12" height="10"/><rect class="c" x="1407" y="304" width="12" height="10"/><rect class="c" x="1432" y="304" width="12" height="10"/>
<rect class="c" x="1380" y="338" width="12" height="10"/><rect class="c" x="1407" y="338" width="12" height="10"/><rect class="c" x="1432" y="338" width="12" height="10"/>
<rect class="c" x="1380" y="357" width="12" height="10"/><rect class="c" x="1407" y="357" width="12" height="10"/><rect class="c" x="1432" y="357" width="12" height="10"/>
<rect class="c" x="1534" y="325" width="34" height="26"/><rect class="c" x="1534" y="373" width="34" height="24"/><rect class="c" x="1534" y="412" width="34" height="25"/><rect class="c" x="1534" y="460" width="34" height="24"/>
<rect class="c" x="1453" y="500" width="36" height="37"/>
<rect class="c" x="1358" y="383" width="12" height="12"/><rect class="c" x="1348" y="428" width="12" height="12"/><rect class="c" x="1379" y="428" width="12" height="12"/>
<rect class="c" x="1311" y="428" width="10" height="12"/><rect class="c" x="1337" y="428" width="10" height="12"/>
<rect class="c" x="1465" y="385" width="10" height="12"/><rect class="c" x="1482" y="385" width="10" height="12"/><rect class="c" x="1483" y="437" width="12" height="12"/>
<rect class="c" x="1437" y="455" width="12" height="10"/><rect class="c" x="1427" y="475" width="12" height="10"/>
<rect class="c" x="1432" y="508" width="12" height="10"/><rect class="c" x="1432" y="528" width="12" height="10"/>
<rect class="o" x="1297" y="558" width="76" height="41"/><rect class="p" x="1304" y="565" width="21" height="27"/><rect class="p" x="1343" y="565" width="22" height="27"/>
<path class="o" d="M1380 558V600M1402 558V600"/>
<rect class="p" x="1377" y="565" width="10" height="10"/><rect class="p" x="1392" y="565" width="10" height="10"/><rect class="p" x="1377" y="584" width="10" height="10"/><rect class="p" x="1392" y="584" width="10" height="10"/>
<rect class="c" x="1454" y="561" width="34" height="23"/>
<rect class="c" x="1598" y="575" width="24" height="22"/><rect class="c" x="1598" y="612" width="24" height="22"/>
<rect class="p" x="1280" y="628" width="12" height="12"/><rect class="p" x="1280" y="648" width="12" height="12"/>

<!-- ===== TOP RIGHT ===== -->
<rect class="c" x="1758" y="0" width="24" height="45"/><rect class="c" x="1798" y="0" width="24" height="45"/>
<path class="o" d="M1640 31H1668V52H1700V31H1776V166H1640"/>
<rect class="p" x="1722" y="45" width="44" height="14"/><rect class="p" x="1722" y="68" width="44" height="14"/><rect class="p" x="1722" y="92" width="44" height="14"/><rect class="p" x="1722" y="115" width="44" height="14"/><rect class="p" x="1722" y="137" width="44" height="14"/>
<rect class="c" x="1658" y="73" width="15" height="42"/><rect class="c" x="1687" y="73" width="16" height="42"/><rect class="c" x="1717" y="73" width="15" height="42"/>
<rect class="o" x="1640" y="172" width="48" height="96"/><rect class="o" x="1688" y="172" width="0" height="96"/>
<rect class="p" x="1643" y="178" width="20" height="30"/><rect class="p" x="1700" y="178" width="25" height="30"/><rect class="p" x="1643" y="225" width="20" height="35"/><rect class="p" x="1700" y="225" width="25" height="35"/>
<rect class="o" x="1640" y="172" width="92" height="96"/>
<rect class="c" x="1646" y="148" width="24" height="23"/><rect class="c" x="1660" y="258" width="24" height="22"/>
<rect class="o" x="1658" y="290" width="98" height="80"/><path class="o" d="M1705 290V370"/>
<rect class="p" x="1668" y="298" width="26" height="26"/><rect class="p" x="1715" y="298" width="26" height="26"/><rect class="p" x="1668" y="336" width="26" height="26"/><rect class="p" x="1715" y="336" width="26" height="26"/>
<rect class="c" x="1680" y="282" width="26" height="22"/><rect class="c" x="1722" y="305" width="24" height="22"/><rect class="c" x="1722" y="353" width="24" height="22"/>
<!-- stacks -->
<g class="p">
<rect x="1806" y="6" width="42" height="16" rx="4"/><rect x="1806" y="33" width="42" height="16" rx="4"/><rect x="1806" y="59" width="42" height="17" rx="4"/><rect x="1806" y="85" width="42" height="17" rx="4"/><rect x="1806" y="112" width="42" height="17" rx="4"/>
<rect x="1806" y="182" width="42" height="18" rx="4"/><rect x="1806" y="209" width="42" height="17" rx="4"/><rect x="1806" y="235" width="42" height="17" rx="4"/><rect x="1806" y="261" width="42" height="17" rx="4"/><rect x="1806" y="289" width="42" height="17" rx="4"/><rect x="1806" y="315" width="42" height="17" rx="4"/><rect x="1806" y="341" width="42" height="18" rx="4"/>
<rect x="2093" y="6" width="43" height="16" rx="4"/><rect x="2093" y="33" width="43" height="16" rx="4"/><rect x="2093" y="59" width="43" height="17" rx="4"/><rect x="2093" y="85" width="43" height="17" rx="4"/><rect x="2093" y="112" width="43" height="17" rx="4"/>
<rect x="2093" y="182" width="43" height="18" rx="4"/><rect x="2093" y="209" width="43" height="17" rx="4"/><rect x="2093" y="235" width="43" height="17" rx="4"/><rect x="2093" y="261" width="43" height="17" rx="4"/><rect x="2093" y="289" width="43" height="17" rx="4"/><rect x="2093" y="315" width="43" height="17" rx="4"/><rect x="2093" y="341" width="43" height="18" rx="4"/>
</g>
<rect class="c" x="2095" y="0" width="30" height="47"/>
<rect class="c" x="1848" y="73" width="14" height="42"/><rect class="c" x="1878" y="73" width="14" height="42"/><rect class="c" x="1907" y="73" width="14" height="42"/><rect class="c" x="1937" y="73" width="14" height="42"/><rect class="c" x="1967" y="73" width="14" height="42"/><rect class="c" x="1997" y="73" width="14" height="42"/><rect class="c" x="2027" y="73" width="14" height="42"/><rect class="c" x="2056" y="73" width="14" height="42"/>
<g class="d"><circle cx="1884" cy="129" r="4.5"/><circle cx="1973" cy="129" r="4.5"/><circle cx="2004" cy="129" r="4.5"/><circle cx="2033" cy="129" r="4.5"/><circle cx="2064" cy="129" r="4.5"/><circle cx="1867" cy="27" r="4.5"/><circle cx="1867" cy="56" r="4.5"/>
<circle cx="1994" cy="316" r="4.5"/><circle cx="2042" cy="316" r="4.5"/><circle cx="2066" cy="316" r="4.5"/><circle cx="1864" cy="352" r="4.5"/><circle cx="1864" cy="258" r="4.5"/><circle cx="1864" cy="290" r="4.5"/></g>
<rect class="c" x="1801" y="133" width="25" height="22"/><rect class="c" x="1801" y="180" width="25" height="22"/><rect class="c" x="1856" y="156" width="24" height="22"/>
<rect class="c" x="1820" y="220" width="22" height="24"/><rect class="c" x="1848" y="220" width="22" height="24"/>
<rect class="c" x="1812" y="266" width="10" height="12"/><rect class="c" x="1833" y="266" width="10" height="12"/><rect class="c" x="1818" y="330" width="24" height="20"/>
<rect class="c" x="1887" y="193" width="27" height="34" rx="5"/><rect class="c" x="1933" y="193" width="27" height="34" rx="5"/>
<rect class="c" x="1987" y="196" width="22" height="24" rx="3"/><rect class="c" x="2025" y="196" width="22" height="24" rx="3"/>
<rect class="c" x="1890" y="242" width="22" height="22"/><rect class="c" x="1933" y="242" width="22" height="22"/>
<rect class="c" x="1882" y="280" width="34" height="24"/><rect class="c" x="1929" y="280" width="34" height="24"/><rect class="c" x="1882" y="328" width="34" height="24"/><rect class="c" x="1929" y="328" width="34" height="24"/>
<rect class="c" x="1990" y="233" width="15" height="43"/><rect class="c" x="2020" y="233" width="15" height="43"/><rect class="c" x="2050" y="233" width="15" height="43"/><rect class="c" x="2081" y="233" width="15" height="43"/>
<path class="o" d="M1816 367V383H2123V367M2124 135V178"/>
<rect class="c" x="1990" y="355" width="15" height="45"/><rect class="c" x="2020" y="355" width="15" height="45"/><rect class="c" x="2050" y="355" width="15" height="45"/><rect class="c" x="2081" y="355" width="15" height="45"/>
<circle cx="2093" cy="348" r="10" fill="#6b8263"/>
<!-- K300 / GNSS area -->
<circle class="d" cx="2206" cy="11" r="18"/><circle class="d" cx="2265" cy="11" r="18"/><circle class="d" cx="2235" cy="42" r="18"/><circle class="d" cx="2206" cy="73" r="18"/><circle class="d" cx="2265" cy="73" r="18"/>
<path class="o" d="M2195 88H2280M2281 22V60M2405 0V109"/>
<circle cx="2375" cy="77" r="18" fill="#6b8263"/>
<rect class="o" x="2146" y="115" width="78" height="41"/><rect class="p" x="2155" y="122" width="20" height="28"/><rect class="p" x="2193" y="122" width="20" height="28"/>
<rect class="p" x="2228" y="105" width="15" height="12"/><rect class="p" x="2228" y="125" width="15" height="12"/>
<path class="o" d="M2245 100V150M2250 125H2290"/><rect class="o" x="2250" y="128" width="40" height="22"/>
<rect class="p" x="2256" y="132" width="10" height="12"/><rect class="p" x="2272" y="132" width="10" height="12"/>
<rect class="o" x="2148" y="173" width="76" height="78"/><path class="o" d="M2148 213H2224"/>
<rect class="p" x="2158" y="182" width="22" height="24"/><rect class="p" x="2193" y="182" width="22" height="24"/><rect class="p" x="2158" y="219" width="22" height="24"/><rect class="p" x="2193" y="219" width="22" height="24"/>
<rect class="o" x="2240" y="173" width="76" height="78"/><path class="o" d="M2240 213H2316"/>
<rect class="p" x="2250" y="182" width="22" height="24"/><rect class="p" x="2285" y="182" width="22" height="24"/><rect class="p" x="2250" y="219" width="22" height="24"/><rect class="p" x="2285" y="219" width="22" height="24"/>
<g class="d"><circle cx="2233" cy="193" r="4.5"/><circle cx="2235" cy="230" r="4.5"/><circle cx="2232" cy="250" r="4.5"/><circle cx="2187" cy="212" r="4.5"/><circle cx="2331" cy="232" r="4.5"/></g>
<rect class="o" x="2155" y="262" width="27" height="47"/><rect class="p" x="2163" y="270" width="12" height="12"/><rect class="p" x="2163" y="290" width="12" height="12"/>
<rect class="o" x="2190" y="264" width="90" height="56"/><path class="o" d="M2220 280H2280"/>
<rect class="p" x="2270" y="268" width="12" height="36"/><rect class="p" x="2200" y="296" width="15" height="12"/>
<rect class="c" x="2177" y="264" width="44" height="36"/><rect class="c" x="2244" y="261" width="26" height="64"/>
<rect class="o" x="2292" y="272" width="32" height="52"/><rect class="p" x="2299" y="282" width="17" height="12"/><rect class="p" x="2299" y="302" width="17" height="12"/>
<rect class="c" x="2123" y="280" width="34" height="24"/><rect class="c" x="2123" y="328" width="34" height="24"/><rect class="c" x="2177" y="334" width="44" height="36"/>
<rect class="c" x="2294" y="355" width="16" height="40"/><rect class="c" x="2328" y="355" width="16" height="40"/><rect class="c" x="2364" y="355" width="16" height="40"/>
<rect class="o" x="2154" y="362" width="41" height="73"/><rect class="p" x="2163" y="370" width="24" height="24"/><rect class="p" x="2163" y="408" width="24" height="22"/>
<g class="d"><circle cx="2296" cy="412" r="4.5"/><circle cx="2343" cy="412" r="4.5"/><circle cx="2367" cy="412" r="4.5"/><circle cx="2367" cy="435" r="4.5"/><circle cx="2343" cy="435" r="4.5"/></g>
<rect class="c" x="2318" y="405" width="12" height="12"/><rect class="c" x="2318" y="430" width="12" height="12"/>
<!-- D01 area -->
<rect class="c" x="1660" y="382" width="24" height="66"/>
<rect class="o" x="1673" y="424" width="48" height="70"/><rect class="p" x="1681" y="432" width="26" height="24"/><rect class="p" x="1681" y="468" width="26" height="24"/>
<rect class="o" x="1722" y="424" width="44" height="70"/><rect class="p" x="1730" y="432" width="26" height="24"/><rect class="p" x="1730" y="468" width="26" height="24"/>
<rect class="o" x="1763" y="410" width="80" height="101"/>
<rect class="p" x="1772" y="418" width="14" height="22"/><rect class="p" x="1795" y="418" width="14" height="22"/><rect class="p" x="1818" y="418" width="14" height="22"/>
<rect class="p" x="1772" y="476" width="14" height="22"/><rect class="p" x="1795" y="476" width="14" height="22"/><rect class="p" x="1818" y="476" width="14" height="22"/>
<g class="d"><circle cx="1776" cy="460" r="4.5"/><circle cx="1803" cy="460" r="4.5"/><circle cx="1828" cy="460" r="4.5"/><circle cx="1706" cy="388" r="4.5"/><circle cx="1730" cy="388" r="4.5"/>
<circle cx="1803" cy="531" r="4.5"/><circle cx="1792" cy="561" r="4.5"/><circle cx="1822" cy="561" r="4.5"/><circle cx="1910" cy="412" r="4.5"/><circle cx="1935" cy="412" r="4.5"/><circle cx="1887" cy="508" r="4.5"/><circle cx="1911" cy="508" r="4.5"/></g>
<rect class="c" x="1709" y="474" width="16" height="41"/><rect class="c" x="1740" y="474" width="16" height="41"/><rect class="c" x="1775" y="474" width="16" height="41"/><rect class="c" x="1801" y="474" width="16" height="41"/><rect class="c" x="1829" y="474" width="16" height="41"/>
<rect class="c" x="1673" y="550" width="23" height="22"/><rect class="c" x="1725" y="550" width="23" height="22"/><rect class="c" x="1673" y="593" width="23" height="22"/><rect class="c" x="1725" y="593" width="23" height="22"/>
<rect class="c" x="1869" y="382" width="24" height="66"/><path class="o" d="M1881 449V475"/>
<rect class="p" x="1890" y="425" width="10" height="24"/><rect class="p" x="1907" y="425" width="10" height="24"/><rect class="p" x="1890" y="468" width="10" height="24"/><rect class="p" x="1907" y="468" width="10" height="24"/>
<rect class="c" x="1922" y="429" width="25" height="23"/><rect class="c" x="1922" y="469" width="25" height="22"/>
<rect class="c" x="1937" y="515" width="7" height="18"/><rect class="c" x="1947" y="515" width="7" height="18"/><rect class="c" x="1958" y="515" width="7" height="18"/><rect class="c" x="1968" y="515" width="7" height="18"/>
<rect class="c" x="1937" y="580" width="7" height="18"/><rect class="c" x="1947" y="580" width="7" height="18"/><rect class="c" x="1958" y="580" width="7" height="18"/><rect class="c" x="1968" y="580" width="7" height="18"/>
<rect class="o" x="1890" y="519" width="42" height="73"/><rect class="p" x="1898" y="527" width="24" height="24"/><rect class="p" x="1898" y="566" width="24" height="22"/>
<rect class="c" x="1838" y="532" width="22" height="22"/><rect class="c" x="1880" y="532" width="22" height="22"/><rect class="c" x="1836" y="572" width="22" height="24"/><rect class="c" x="1874" y="572" width="22" height="24"/>
<rect class="c" x="1893" y="626" width="22" height="24"/><rect class="c" x="1932" y="626" width="22" height="24"/><rect class="c" x="1977" y="623" width="22" height="24"/><rect class="c" x="2015" y="623" width="22" height="24"/>
<rect class="c" x="1995" y="600" width="14" height="14"/><rect class="c" x="2013" y="600" width="14" height="14"/>
<rect class="o" x="1982" y="392" width="76" height="40"/><rect class="p" x="1989" y="400" width="24" height="24"/><rect class="p" x="2026" y="400" width="24" height="24"/>
<rect class="o" x="1982" y="440" width="76" height="37"/><rect class="p" x="1989" y="446" width="24" height="22"/><rect class="p" x="2026" y="446" width="24" height="22"/>
<rect class="c" x="2012" y="420" width="22" height="22"/><rect class="c" x="2062" y="420" width="22" height="22"/>
<rect class="p" x="2063" y="450" width="22" height="20"/>
<rect class="c" x="2008" y="460" width="26" height="34" rx="6"/><rect class="c" x="2053" y="460" width="26" height="34" rx="6"/>
<path class="o" d="M2082 448V418H2124M2082 470V496H2124"/>
<rect class="p" x="2118" y="425" width="25" height="22"/><rect class="p" x="2118" y="470" width="25" height="22"/><rect class="c" x="2122" y="445" width="22" height="22"/>
<rect class="c" x="2146" y="500" width="22" height="24"/><circle class="d" cx="2139" cy="544" r="11"/>
<rect class="o" x="2181" y="449" width="42" height="73"/><rect class="p" x="2188" y="456" width="24" height="22"/><rect class="p" x="2188" y="497" width="24" height="20"/>
<rect class="o" x="2224" y="449" width="42" height="73"/><rect class="p" x="2232" y="456" width="20" height="22"/><rect class="p" x="2232" y="497" width="20" height="22"/>
<rect class="c" x="2167" y="443" width="23" height="25"/><rect class="c" x="2247" y="465" width="24" height="20"/><rect class="c" x="2247" y="510" width="24" height="20"/>
<rect class="o" x="2278" y="449" width="42" height="73"/><rect class="p" x="2285" y="483" width="24" height="24"/>
<rect class="c" x="2286" y="455" width="7" height="16"/><rect class="c" x="2298" y="455" width="7" height="16"/><rect class="c" x="2311" y="455" width="7" height="16"/>
<rect class="c" x="2286" y="520" width="7" height="16"/><rect class="c" x="2298" y="520" width="7" height="16"/><rect class="c" x="2311" y="520" width="7" height="16"/>
<rect class="c" x="2330" y="466" width="26" height="22"/><rect class="c" x="2330" y="506" width="26" height="22"/><rect class="p" x="2325" y="478" width="12" height="20"/>
<rect class="c" x="2372" y="455" width="7" height="16"/><rect class="c" x="2384" y="455" width="7" height="16"/><rect class="c" x="2396" y="455" width="7" height="16"/><rect class="c" x="2408" y="455" width="7" height="16"/>
<rect class="c" x="2372" y="520" width="7" height="16"/><rect class="c" x="2384" y="520" width="7" height="16"/><rect class="c" x="2396" y="520" width="7" height="16"/><rect class="c" x="2408" y="520" width="7" height="16"/>
<g class="d"><circle cx="2223" cy="487" r="4.5"/><circle cx="2187" cy="532" r="4.5"/><circle cx="2221" cy="532" r="4.5"/><circle cx="2350" cy="532" r="4.5"/><circle cx="2350" cy="553" r="4.5"/><circle cx="2367" cy="575" r="4.5"/></g>
<rect class="c" x="2303" y="544" width="14" height="12"/><rect class="c" x="2325" y="544" width="14" height="12"/><rect class="c" x="2378" y="544" width="14" height="12"/>
<!-- UB130SN -->
<rect class="o" x="2188" y="544" width="144" height="192"/>
<rect x="2198" y="553" width="123" height="35" fill="url(#vst2)"/><rect x="2198" y="691" width="123" height="38" fill="url(#vst2)"/>
<rect class="c" x="2231" y="570" width="14" height="45"/><rect class="c" x="2262" y="570" width="14" height="45"/><rect class="c" x="2293" y="570" width="14" height="45"/><rect class="c" x="2324" y="570" width="14" height="45"/>
<rect class="c" x="2231" y="690" width="14" height="45"/><rect class="c" x="2262" y="690" width="14" height="45"/><rect class="c" x="2293" y="690" width="14" height="45"/><rect class="c" x="2324" y="690" width="14" height="45"/>
<g class="d"><circle cx="2237" cy="664" r="4.5"/><circle cx="2268" cy="664" r="4.5"/><circle cx="2300" cy="664" r="4.5"/></g>
<path class="o" d="M2322 627V655"/>
<rect class="c" x="2123" y="617" width="34" height="24"/><rect class="c" x="2170" y="617" width="34" height="24"/><rect class="c" x="2123" y="664" width="34" height="24"/><rect class="c" x="2170" y="664" width="34" height="24"/>
<rect class="c" x="2131" y="571" width="22" height="24"/><rect class="c" x="2170" y="571" width="22" height="24"/>
<rect class="o" x="2334" y="676" width="42" height="74"/><rect class="p" x="2343" y="690" width="24" height="20"/><rect class="p" x="2343" y="722" width="24" height="20"/>
<rect class="c" x="2362" y="616" width="34" height="24"/><rect class="c" x="2362" y="664" width="34" height="24"/>
<!-- AKKU -->
<circle cx="2067" cy="665" r="84" fill="none" stroke="#6b8263" stroke-width="5"/>
<path class="o" d="M1993 572H2017M2005 560V584"/>
<rect class="c" x="2032" y="521" width="32" height="56"/><rect class="c" x="2070" y="521" width="32" height="56"/>
<!-- right edge stack -->
<g class="p">
<rect x="2388" y="121" width="70" height="39" rx="5"/><rect x="2388" y="168" width="70" height="40" rx="5"/><rect x="2388" y="216" width="70" height="39" rx="5"/><rect x="2388" y="267" width="70" height="39" rx="5"/>
<rect x="2388" y="314" width="70" height="40" rx="5"/><rect x="2388" y="362" width="70" height="39" rx="5"/><rect x="2388" y="412" width="70" height="37" rx="5"/><rect x="2388" y="460" width="70" height="37" rx="5"/>
<rect x="2388" y="508" width="70" height="39" rx="5"/><rect x="2388" y="556" width="70" height="39" rx="5"/><rect x="2388" y="603" width="70" height="39" rx="5"/><rect x="2388" y="651" width="70" height="50" rx="5"/>
</g>
<rect class="c" x="2393" y="261" width="26" height="67"/><rect class="c" x="2415" y="590" width="31" height="45"/><rect class="c" x="2415" y="665" width="31" height="36"/>
<path class="o" d="M2403 745V775H2446"/>
</svg>
</body></html>
